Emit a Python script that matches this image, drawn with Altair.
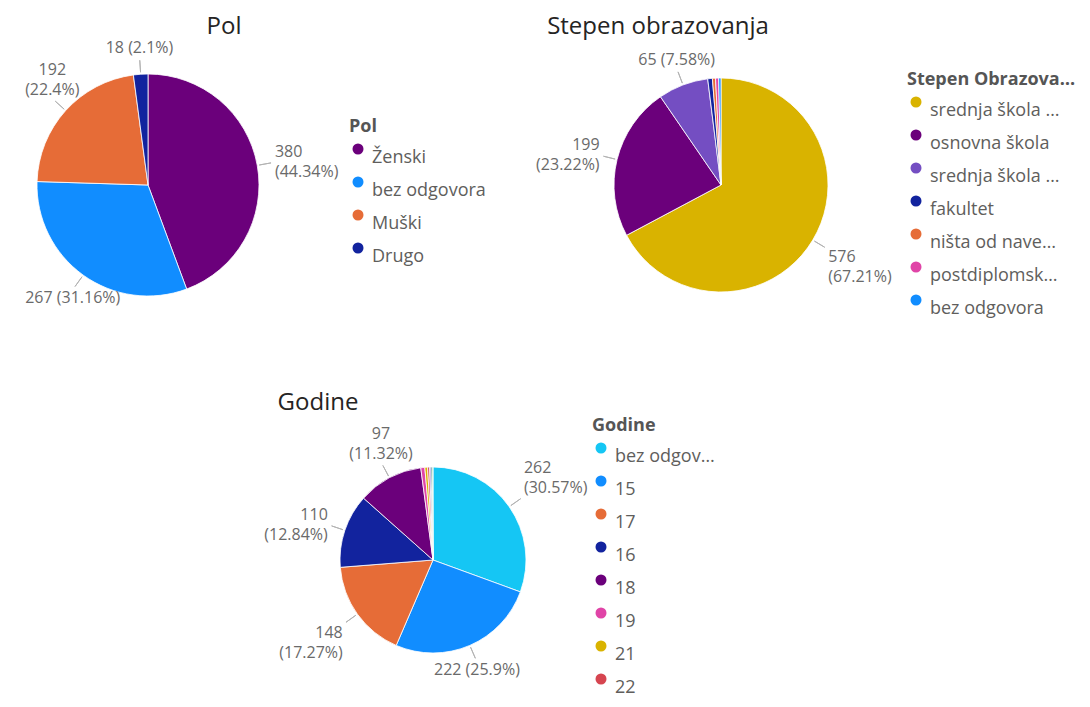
import altair as alt
import pandas as pd

FONT = "Segoe UI, Open Sans, sans-serif"

# ---- data ----
pol_cats = ["Ženski", "bez odgovora", "Muški", "Drugo"]
pol_vals = [380, 267, 192, 18]
pol_colors = ["#6B007B", "#118DFF", "#E66C37", "#12239E"]

obr_cats = ["srednja škola četvorogodišnja", "osnovna škola", "srednja škola trogodišnja",
            "fakultet", "ništa od navedenog", "postdiplomske studije", "bez odgovora"]
obr_vals = [576, 199, 65, 6, 4, 4, 3]
obr_colors = ["#D9B300", "#6B007B", "#744EC2", "#12239E", "#E66C37", "#E044A7", "#118DFF"]

god_cats = ["bez odgovora", "15", "17", "16", "18", "19", "21", "22", "20", "23", "24"]
god_vals = [262, 222, 148, 110, 97, 6, 4, 3, 2, 2, 1]
god_colors = ["#15C6F4", "#118DFF", "#E66C37", "#12239E", "#6B007B", "#E044A7",
              "#D9B300", "#D64550", "#744EC2", "#197278", "#1AAB40"]

LINE_H = 20


def make_pie(cats, vals, colors, cx, cy, r, title, tx, ty,
             legend_title, lx, ly, label_limit, legend_values=None):
    df = pd.DataFrame({"cat": cats, "v": vals, "idx": list(range(len(cats)))})
    base = alt.Chart(df)
    legend_kw = dict(
        title=legend_title, orient="none", legendX=lx, legendY=ly,
        symbolType="circle", symbolSize=121, symbolStrokeWidth=0,
        labelFont=FONT, labelFontSize=18, labelColor="#605E5C",
        labelLimit=label_limit, labelBaseline="top", labelOffset=5,
        titleFont=FONT, titleFontSize=18, titleFontWeight="bold",
        titleColor="#555555", titleLimit=175, titlePadding=4, rowPadding=6,
    )
    if legend_values is not None:
        legend_kw["values"] = legend_values
    color = alt.Color("cat:N", sort=cats,
                      scale=alt.Scale(domain=cats, range=colors),
                      legend=alt.Legend(**legend_kw))
    arcs = base.mark_arc(radius=r, stroke="white", strokeWidth=0.8).encode(
        theta=alt.Theta("v:Q", stack=True),
        order=alt.Order("idx:Q"),
        color=color,
        x=alt.value(cx), y=alt.value(cy),
    )
    lab = base.transform_joinaggregate(total="sum(v)").transform_window(
        cum="sum(v)", sort=[alt.SortField("idx")]
    ).transform_calculate(
        mid="2*PI*(datum.cum - datum.v/2)/datum.total",
        mid2="2*PI*(datum.cum - datum.v/2)/datum.total + 0.0001",
        share="datum.v/datum.total",
        pct="format(datum.v/datum.total, '.2~%')",
    ).transform_calculate(
        nl="(cos(datum.mid) < -0.6 || cos(datum.mid) > 0.9) ? 1 : 2",
    ).transform_calculate(
        lab="datum.nl == 1 ? datum.v + ' (' + datum.pct + ')' : datum.v + '\\n(' + datum.pct + ')'",
    ).transform_filter("datum.share >= 0.02")
    leaders = lab.mark_arc(radius=r + 14, radius2=r + 2, filled=False,
                           stroke="#b3b3b3", strokeWidth=1).encode(
        theta=alt.Theta("mid:Q", scale=None),
        theta2="mid2:Q",
        x=alt.value(cx), y=alt.value(cy),
    )
    texts = lab.mark_text(
        radius=r + 18, font=FONT, fontSize=16, color="#6a6a6a",
        lineBreak="\n", lineHeight=LINE_H,
        align=alt.expr("sin(datum.mid) > 0.8 ? 'left' : (sin(datum.mid) < -0.8 ? 'right' : 'center')"),
        baseline=alt.expr("cos(datum.mid) > 0.5 ? 'bottom' : (cos(datum.mid) < -0.5 ? 'top' : 'middle')"),
        dy=alt.expr(f"cos(datum.mid) > 0.5 ? -(datum.nl - 1) * {LINE_H} : "
                    f"(cos(datum.mid) < -0.5 ? 0 : -(datum.nl - 1) * {LINE_H / 2})"),
    ).encode(
        text="lab:N",
        theta=alt.Theta("mid:Q", scale=None),
        x=alt.value(cx), y=alt.value(cy),
    )
    ttl = alt.Chart(pd.DataFrame({"t": [title]})).mark_text(
        font=FONT, fontSize=24, color="#252423", align="center", baseline="alphabetic"
    ).encode(text="t:N", x=alt.value(tx), y=alt.value(ty))
    return alt.layer(arcs, leaders, texts, ttl)


p1 = make_pie(pol_cats, pol_vals, pol_colors, 140, 177, 111, "Pol", 216, 26,
              "Pol", 341, 110, 200)
p2 = make_pie(obr_cats, obr_vals, obr_colors, 713, 177, 107, "Stepen obrazovanja", 650, 26,
              "Stepen Obrazovanja", 899, 63, 132)
p3 = make_pie(god_cats, god_vals, god_colors, 425, 552, 93, "Godine", 310, 402,
              "Godine", 584, 409, 105, legend_values=god_cats[:8])

chart = alt.layer(p1, p2, p3).resolve_scale(
    color="independent", theta="independent"
).properties(
    width=1074, height=691, padding=0, autosize="none"
).configure_view(stroke=None)

chart.save("out.html", embed_options={"renderer": "svg", "actions": False})
